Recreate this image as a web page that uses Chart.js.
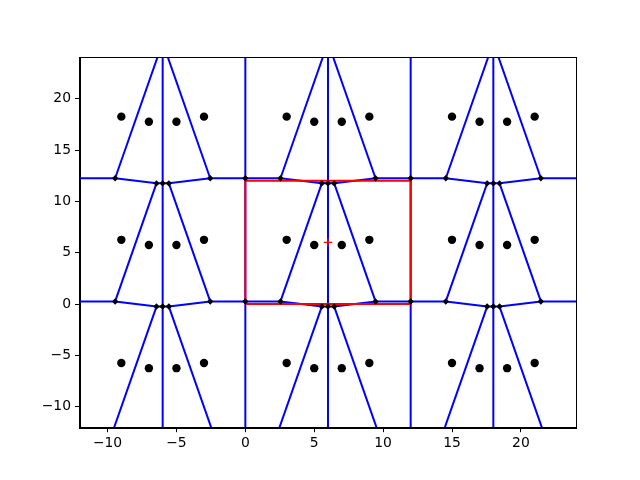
<!DOCTYPE html>
<html><head><meta charset="utf-8">
<script src="https://cdn.jsdelivr.net/npm/chart.js@4/dist/chart.umd.min.js"></script>
<style>html,body{margin:0;padding:0;background:#fff}canvas{display:block}</style>
</head><body>
<canvas id="c" width="640" height="480"></canvas>
<script>
// ---- data ----
const xTicks = [-10, -5, 0, 5, 10, 15, 20];
const yTicks = [-10, -5, 0, 5, 10, 15, 20];
const xRange = [-12, 24];
const yRange = [-12, 24];
// generator points of one periodic cell
const pointX = [3, 5, 7, 9];
const pointY = [6.25, 5.75, 5.75, 6.25];
// periodic copies (shifts of the unit cell)
const tileShifts = [-12, 0, 12];
const period = 12;
// Voronoi vertices on the boundary between two cell rows (one period)
const chainX = [0, 2.55, 5.55, 6, 6.45, 9.45];
const chainY = [0.25, 0.25, -0.25, -0.25, -0.25, 0.25];
// ridges joining chain vertex ridgeFrom[k] to vertex ridgeTo[k] of the next chain up
const ridgeFrom = [0, 1, 3, 5];
const ridgeTo   = [0, 2, 3, 4];
// unit cell box and its centre
const boxX = [0, 12, 12, 0, 0];
const boxY = [0, 0, 12, 12, 0];
const centerX = [6];
const centerY = [6];

// ---- build datasets ----
const BLUE = '#0000ff', RED = '#ff0000';
const datasets = [];

// red centre marker
datasets.push({data: centerX.map((x,i)=>({x, y:centerY[i]})), pointStyle:'cross', pointRadius:4.2,
  borderColor:RED, backgroundColor:RED, borderWidth:1.4, showLine:false, order:0, clip:false});

// generator points
const pts = [];
for (const cx of tileShifts) for (const cy of tileShifts)
  pointX.forEach((x,i)=>pts.push({x: x+cx, y: pointY[i]+cy}));
datasets.push({data: pts, pointStyle:'circle', pointRadius:4.2, backgroundColor:'#000', borderColor:'#000',
  borderWidth:0, showLine:false, order:1});

// chains and vertices
const chainShifts = tileShifts.slice(1);
const vertices = [];
const lineSegs = [];
for (const s of chainShifts) {
  const poly = [];
  for (const c of tileShifts) for (let i = 0; i < chainX.length; i++) {
    if (c === tileShifts[0] && i === 0) continue;
    poly.push({x: c + chainX[i], y: s + chainY[i]});
  }
  vertices.push(...poly);
  const first = poly[0], last = poly[poly.length-1];
  lineSegs.push([{x:first.x - period, y:first.y}, ...poly, {x:last.x + period, y:last.y}]);
}
for (const c of tileShifts) for (let k = 0; k < ridgeFrom.length; k++) {
  if (c === tileShifts[0] && ridgeFrom[k] === 0) continue;
  const i = ridgeFrom[k], j = ridgeTo[k];
  for (const r of tileShifts) {
    const x0 = c + chainX[i], y0 = r + chainY[i];
    const x1 = c + chainX[j], y1 = r + period + chainY[j];
    let a = {x:x0, y:y0}, b = {x:x1, y:y1};
    if (!chainShifts.includes(r)) a = {x: x1 - 1.5*(x1-x0), y: y1 - 1.5*(y1-y0)};
    if (!chainShifts.includes(r + period)) b = {x: x0 + 1.5*(x1-x0), y: y0 + 1.5*(y1-y0)};
    lineSegs.push([a, b]);
  }
}
datasets.push({data: vertices, pointStyle:'rectRot', pointRadius:3.2, backgroundColor:'#000', borderColor:'#000',
  borderWidth:0, showLine:false, order:2});

// red box
datasets.push({data: boxX.map((x,i)=>({x, y:boxY[i]})), showLine:true, borderColor:RED, borderWidth:2,
  pointRadius:0, order:3, clip:0});

for (const s of lineSegs)
  datasets.push({data: s, showLine:true, borderColor:BLUE, borderWidth:2, pointRadius:0, order:10, clip:0});

const fmt = v => (v < 0 ? '\u2212' + Math.abs(v) : String(v));
const tickFont = {family:'DejaVu Sans', size:13.9};

const framePlugin = {
  id:'frame',
  afterDraw(chart){
    const {ctx, chartArea:a} = chart;
    ctx.save();
    ctx.strokeStyle = '#000'; ctx.lineWidth = 1;
    ctx.strokeRect(Math.round(a.left)-0.5, Math.round(a.top)-0.5, Math.round(a.right-a.left)+1, Math.round(a.bottom-a.top)+1);
    ctx.restore();
  }
};

new Chart(document.getElementById('c'), {
  type:'scatter',
  data:{datasets},
  options:{
    responsive:false, animation:false, devicePixelRatio:1,
    layout:{padding:{left:0, top:57.6, right:64, bottom:0}},
    plugins:{legend:{display:false}, tooltip:{enabled:false}},
    elements:{line:{tension:0}},
    scales:{
      x:{type:'linear', min:xRange[0], max:xRange[1],
        afterBuildTicks: s => { s.ticks = xTicks.map(v=>({value:v})); },
        afterFit: s => { s.height = 52.8; },
        grid:{drawOnChartArea:false, drawTicks:true, tickLength:5, tickColor:'#000', tickWidth:1, color:'#000'},
        border:{display:true, color:'#000', width:1},
        ticks:{color:'#000', font:tickFont, padding:3, maxRotation:0, autoSkip:false, callback: v => fmt(v)}},
      y:{type:'linear', min:yRange[0], max:yRange[1],
        afterBuildTicks: s => { s.ticks = yTicks.map(v=>({value:v})); },
        afterFit: s => { s.width = 80; },
        grid:{drawOnChartArea:false, drawTicks:true, tickLength:5, tickColor:'#000', tickWidth:1, color:'#000'},
        border:{display:true, color:'#000', width:1},
        ticks:{color:'#000', font:tickFont, padding:4, autoSkip:false, callback: v => fmt(v)}}
    }
  },
  plugins:[framePlugin]
});
</script>
</body></html>
